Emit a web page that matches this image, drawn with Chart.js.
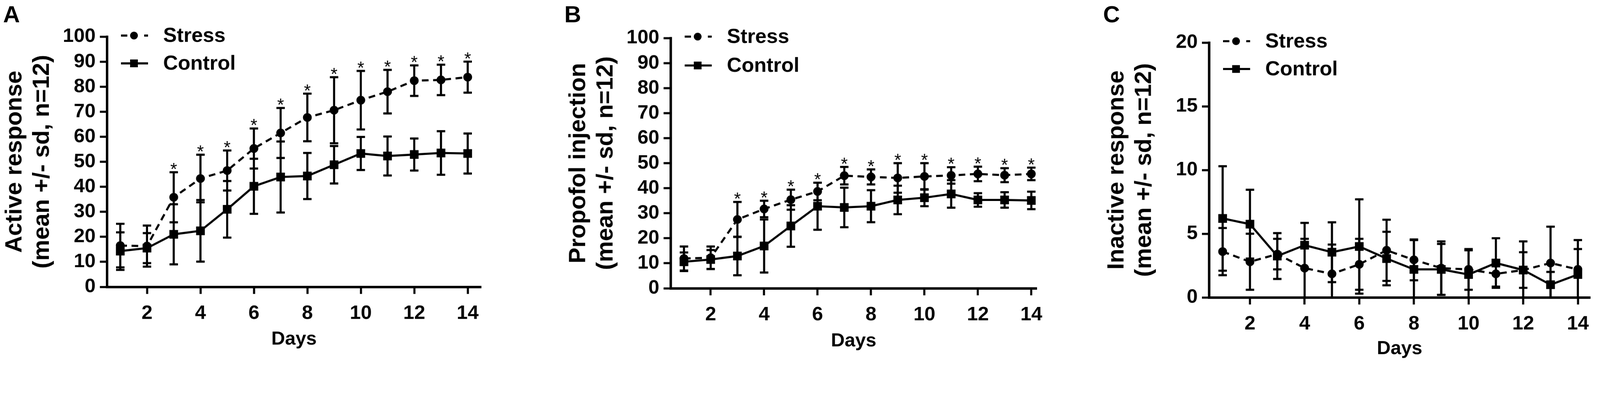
<!DOCTYPE html>
<html>
<head>
<meta charset="utf-8">
<script src="https://cdn.jsdelivr.net/npm/chart.js@4.4.1/dist/chart.umd.min.js"></script>
<style>
  html, body { margin: 0; padding: 0; background: #fff; overflow: hidden; }
  #stage { position: absolute; left: 0; top: 0; width: 4550px; height: 1023px; transform-origin: 0 0; background: #fff; font-family: "Liberation Sans", Arial, sans-serif; }
  canvas { position: absolute; top: 0; }
  .panel-letter { position: absolute; top: 7px; font-size: 66px; font-weight: bold; line-height: 1; color: #000; }
</style>
</head>
<body>
<div id="stage">
<div class="panel-letter" style="left:9px">A</div>
<div class="panel-letter" style="left:1605px">B</div>
<div class="panel-letter" style="left:3137px">C</div>
<canvas id="chartA" width="1500" height="1100" style="left:0px;width:1500px;height:1100px"></canvas>
<canvas id="chartB" width="1440" height="1100" style="left:1603px;width:1440px;height:1100px"></canvas>
<canvas id="chartC" width="1416" height="1100" style="left:3134px;width:1416px;height:1100px"></canvas>
</div>
<script>
// Days of training and the labelled ticks
const days = [1, 2, 3, 4, 5, 6, 7, 8, 9, 10, 11, 12, 13, 14];
const dayTicks = [2, 4, 6, 8, 10, 12, 14];
const yTicksAB = [0, 10, 20, 30, 40, 50, 60, 70, 80, 90, 100];
const yTicksC = [0, 5, 10, 15, 20];
const seriesNames = ['Stress', 'Control'];

// Panel A: active response (mean and sd)
const stressA = [16.5, 16.3, 35.8, 43.3, 46.5, 55.3, 61.5, 67.7, 70.6, 74.6, 78.0, 82.4, 82.7, 83.8];
const stressA_sd = [8.7, 8.2, 10.0, 9.5, 8.0, 8.0, 10.0, 9.5, 13.2, 11.7, 8.7, 6.1, 6.1, 6.2];
const controlA = [14.3, 15.5, 21.0, 22.4, 31.0, 40.2, 43.9, 44.3, 48.8, 53.3, 52.3, 52.9, 53.5, 53.3];
const controlA_sd = [7.5, 6.0, 12.0, 12.3, 11.3, 11.0, 14.2, 9.2, 7.5, 6.6, 7.8, 6.4, 8.7, 8.0];
const starDaysA = [3, 4, 5, 6, 7, 8, 9, 10, 11, 12, 13, 14];

// Panel B: propofol injection
const stressB = [11.9, 12.2, 27.5, 31.7, 35.4, 38.7, 45.0, 44.5, 44.1, 44.7, 45.1, 45.7, 45.2, 45.7];
const stressB_sd = [4.8, 4.5, 7.0, 3.3, 4.0, 3.5, 3.5, 3.0, 5.9, 5.3, 3.3, 2.9, 2.8, 2.5];
const controlB = [10.6, 11.5, 12.9, 16.9, 24.9, 32.8, 32.3, 32.8, 35.3, 36.2, 37.7, 35.3, 35.3, 35.1];
const controlB_sd = [3.7, 3.8, 7.7, 10.6, 8.3, 9.4, 7.9, 6.4, 5.7, 3.4, 5.5, 2.7, 3.1, 3.5];
const starDaysB = [3, 4, 5, 6, 7, 8, 9, 10, 11, 12, 13, 14];

// Panel C: inactive response
const stressC = [3.6, 2.8, 3.4, 2.3, 1.85, 2.6, 3.7, 2.95, 2.3, 2.2, 1.85, 2.15, 2.7, 2.2];
const stressC_sd = [1.85, 2.2, 1.2, 2.3, 2.3, 2.0, 2.4, 1.6, 2.1, 1.6, 1.0, 1.4, 2.85, 2.3];
const controlC = [6.2, 5.75, 3.25, 4.1, 3.55, 4.0, 3.05, 2.2, 2.2, 1.8, 2.7, 2.15, 1.0, 1.8];
const controlC_sd = [4.1, 2.7, 1.8, 1.75, 2.35, 3.7, 2.1, 2.3, 2.0, 1.9, 1.95, 2.25, 1.0, 2.0];

// Fit the 4550x1023 stage into whatever viewport we actually get
const stage = document.getElementById('stage');
const vw = window.innerWidth || 4550;
const vh = window.innerHeight || 1023;
const fit = Math.min(vw / 4550, vh / 1023);
stage.style.transform = 'scale(' + fit + ')';

Chart.defaults.font.family = '"Liberation Sans", Arial, sans-serif';
Chart.defaults.color = '#000';

const FONT = '"Liberation Sans", Arial, sans-serif';

// Error bars (mean +/- sd) and significance stars, drawn from the scales
const errorBarPlugin = {
    id: 'errorBars',
    beforeDatasetsDraw(chart) {
        const ctx = chart.ctx;
        const xs = chart.scales.x;
        const ys = chart.scales.y;
        chart.data.datasets.forEach(ds => {
            if (!ds.sd) return;
            ctx.save();
            ctx.strokeStyle = '#000';
            ctx.lineWidth = 6;
            ds.data.forEach((pt, i) => {
                const px = xs.getPixelForValue(pt.x);
                const hi = ys.getPixelForValue(pt.y + ds.sd[i]);
                const lowVal = pt.y - ds.sd[i];
                const lo = ys.getPixelForValue(Math.max(ys.min, lowVal));
                ctx.beginPath();
                ctx.moveTo(px, hi);
                ctx.lineTo(px, lo);
                ctx.moveTo(px - 12, hi);
                ctx.lineTo(px + 12, hi);
                if (lowVal > ys.min) {
                    ctx.moveTo(px - 12, lo);
                    ctx.lineTo(px + 12, lo);
                }
                ctx.stroke();
            });
            ctx.restore();
        });
    },
    afterDatasetsDraw(chart) {
        const ctx = chart.ctx;
        const xs = chart.scales.x;
        const ys = chart.scales.y;
        chart.data.datasets.forEach(ds => {
            if (!ds.stars) return;
            ctx.save();
            ctx.fillStyle = '#000';
            ctx.font = '50px ' + FONT;
            ctx.textAlign = 'center';
            ctx.textBaseline = 'alphabetic';
            ds.stars.forEach(d => {
                const i = days.indexOf(d);
                const px = xs.getPixelForValue(d);
                const hi = ys.getPixelForValue(ds.data[i].y + ds.sd[i]);
                ctx.fillText('*', px, hi - 13 + 0.43 * 50);
            });
            ctx.restore();
        });
    }
};

// Legend in the top-left corner of the plot: line sample with its marker
const innerLegendPlugin = {
    id: 'innerLegend',
    afterDraw(chart) {
        const ctx = chart.ctx;
        const area = chart.chartArea;
        const rows = chart.options.plugins.innerLegend.rows;
        chart.data.datasets.forEach((ds, k) => {
            const y = area.top + rows[k];
            const x0 = area.left + 40;
            const x1 = area.left + 117;
            const xm = area.left + 77;
            ctx.save();
            ctx.strokeStyle = '#000';
            ctx.fillStyle = '#000';
            ctx.lineWidth = 6;
            ctx.beginPath();
            if (ds.borderDash) {
                // dash, marker, short dot as in the original key
                ctx.moveTo(x0, y);
                ctx.lineTo(x0 + 18, y);
                ctx.moveTo(x1 - 11, y);
                ctx.lineTo(x1, y);
            } else {
                ctx.moveTo(x0, y);
                ctx.lineTo(x1, y);
            }
            ctx.stroke();
            if (ds.pointStyle === 'circle') {
                ctx.beginPath();
                ctx.arc(xm, y, 11, 0, Math.PI * 2);
                ctx.fill();
            } else {
                ctx.fillRect(xm - 11, y - 11, 22, 22);
            }
            ctx.font = 'bold 58px ' + FONT;
            ctx.textBaseline = 'middle';
            ctx.textAlign = 'left';
            ctx.fillText(ds.label, area.left + 160, y + 2);
            ctx.restore();
        });
    }
};

function toPoints(values) {
    return values.map((v, i) => ({ x: days[i], y: v }));
}

function makePanel(id, g) {
    const canvas = document.getElementById(id);
    const W = canvas.width;
    const H = canvas.height;
    return new Chart(canvas, {
        type: 'line',
        data: {
            datasets: [{
                label: seriesNames[0],
                data: toPoints(g.stress),
                sd: g.stressSd,
                stars: g.stars,
                borderColor: '#000',
                backgroundColor: '#000',
                borderWidth: 6,
                borderDash: [19, 13],
                pointStyle: 'circle',
                pointRadius: 12.5,
                pointBorderWidth: 0,
                pointBackgroundColor: '#000',
                tension: 0
            }, {
                label: seriesNames[1],
                data: toPoints(g.control),
                sd: g.controlSd,
                borderColor: '#000',
                backgroundColor: '#000',
                borderWidth: 6,
                pointStyle: 'rect',
                pointRadius: 17.5,
                pointBorderWidth: 0,
                pointBackgroundColor: '#000',
                tension: 0
            }]
        },
        options: {
            responsive: false,
            animation: false,
            devicePixelRatio: 1,
            events: [],
            layout: {
                padding: { left: 0, top: g.top, right: W - g.right, bottom: H - g.boxBottom }
            },
            plugins: {
                legend: { display: false },
                tooltip: { enabled: false },
                innerLegend: { rows: g.legendRows }
            },
            scales: {
                x: {
                    type: 'linear',
                    min: 0.5,
                    max: g.xMax,
                    afterBuildTicks: s => { s.ticks = dayTicks.map(v => ({ value: v })); },
                    afterFit: s => { s.height = g.boxBottom - g.bottom; },
                    grid: { display: true, drawOnChartArea: false, drawTicks: true, tickLength: 20, tickWidth: 6, tickColor: '#000' },
                    border: { display: true, color: '#000', width: 7 },
                    ticks: { font: { size: 56, weight: 'bold' }, color: '#000', padding: g.xPad, maxRotation: 0, autoSkip: false },
                    title: { display: true, text: 'Days', font: { size: 54, weight: 'bold', lineHeight: 1.2 }, color: '#000', padding: 0 }
                },
                y: {
                    type: 'linear',
                    min: g.yTicks[0],
                    max: g.yTicks[g.yTicks.length - 1],
                    afterBuildTicks: s => { s.ticks = g.yTicks.map(v => ({ value: v })); },
                    afterFit: s => { s.width = g.left; },
                    grid: { display: true, drawOnChartArea: false, drawTicks: true, tickLength: 20, tickWidth: 6, tickColor: '#000' },
                    border: { display: true, color: '#000', width: 7 },
                    ticks: { font: { size: 56, weight: 'bold' }, color: '#000', padding: 12, autoSkip: false },
                    title: {
                        display: true,
                        text: g.yTitle,
                        font: { size: 67, weight: 'bold', lineHeight: 1.17 },
                        color: '#000',
                        padding: { top: 3, bottom: 0 }
                    }
                }
            }
        },
        plugins: [errorBarPlugin, innerLegendPlugin]
    });
}

makePanel('chartA', {
    stress: stressA, stressSd: stressA_sd, control: controlA, controlSd: controlA_sd, stars: starDaysA,
    yTicks: yTicksAB, yTitle: ['Active response', '(mean +/- sd, n=12)'], xMax: 14.5,
    left: 304, right: 1368, top: 104, bottom: 815, boxBottom: 997, xPad: 22, legendRows: [-3, 76]
});
makePanel('chartB', {
    stress: stressB, stressSd: stressB_sd, control: controlB, controlSd: controlB_sd, stars: starDaysB,
    yTicks: yTicksAB, yTitle: ['Propofol injection', '(mean +/- sd, n=12)'], xMax: 14.2,
    left: 304, right: 1345, top: 108, bottom: 819, boxBottom: 1002, xPad: 22, legendRows: [-4, 78]
});
makePanel('chartC', {
    stress: stressC, stressSd: stressC_sd, control: controlC, controlSd: controlC_sd, stars: null,
    yTicks: yTicksC, yTitle: ['Inactive response', '(mean +/- sd, n=12)'], xMax: 14.45,
    left: 304, right: 1388, top: 121, bottom: 845, boxBottom: 1024, xPad: 22, legendRows: [-4, 75]
});
</script>
</body>
</html>
